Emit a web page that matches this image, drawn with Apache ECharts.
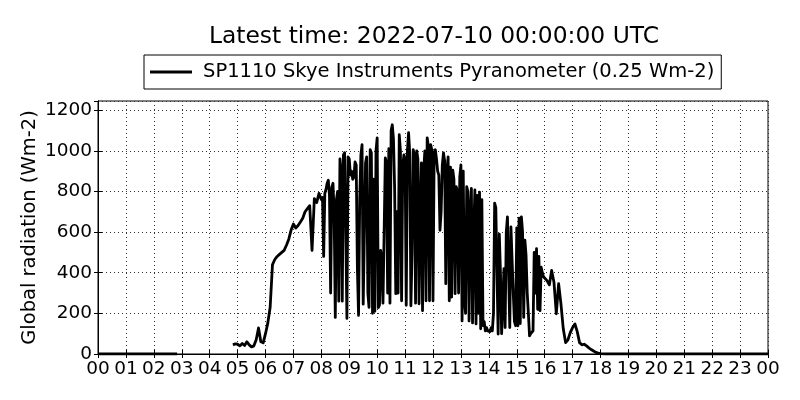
<!DOCTYPE html>
<html>
<head>
<meta charset="utf-8">
<script src="https://cdn.jsdelivr.net/npm/echarts@6/dist/echarts.min.js"></script>
<style>
  html, body { margin: 0; padding: 0; background: #fff; }
  #chart { width: 800px; height: 400px; }
</style>
</head>
<body>
<div id="chart"></div>
<script>
// 00:00 - 07:55, 5-minute samples, one row per hour (null = no data)
var earlyRadiation = [
  0, 0, 0, 0, 0, 0, 0, 0, 0, 0, 0, 0,                                  // 00
  0, 0, 0, 0, 0, 0, 0, 0, 0, 0, 0, 0,                                  // 01
  0, 0, 0, 0, 0, 0, 0, 0, 0, 0, 0, null,                               // 02
  null, null, null, null, null, null, null, null, null, null, null, null, // 03
  null, null, null, null, null, null, null, null, null, null, 45, 50,  // 04
  48, 40, 52, 42, 60, 45, 35, 40, 70, 128, 60, 55,                     // 05
  100, 153, 230, 440, 465, 480, 490, 500, 510, 535, 565, 610,          // 06
  640, 620, 632, 650, 668, 700, 715, 730, 510, 765, 745, 790           // 07
];
// 08:00 - 15:57.5, 2.5-minute samples, one row per hour
var middayRadiation = [
  760, 770, 480, 790, 810, 840, 855, 780, 300, 820, 840, 700,          // 08
  180, 760, 800, 260, 960, 900, 260, 980, 990, 600, 175, 970,
  960, 880, 900, 860, 870, 945, 930, 420, 190, 760, 980, 1030,         // 09
  245, 250, 940, 970, 300, 230, 1005, 990, 200, 860, 210, 1000,
  1064, 228, 240, 510, 470, 250, 600, 965, 940, 300, 1010, 250,        // 10
  1100, 1128, 1060, 820, 297, 700, 300, 1079, 1000, 262, 930, 980,
  960, 240, 1000, 1089, 990, 237, 500, 1005, 980, 250, 1000, 960,      // 11
  247, 700, 940, 213, 900, 1000, 262, 1064, 1020, 262, 1030, 1005,
  262, 990, 1005, 960, 900, 880, 609, 700, 930, 990, 950, 346,         // 12
  900, 970, 262, 920, 280, 905, 860, 297, 823, 800, 300, 870,
  930, 163, 900, 262, 200, 823, 800, 163, 700, 815, 153, 600,          // 13
  807, 148, 780, 200, 797, 124, 760, 140, 160, 114, 130, 114,
  120, 110, 130, 114, 200, 742, 720, 400, 98, 590, 400, 100,           // 14
  98, 420, 130, 600, 675, 680, 130, 625, 620, 300, 160, 139,
  620, 139, 668, 150, 675, 600, 180, 560, 485, 300, 200, 89,           // 15
  100, 105, 114, 500, 300, 518, 220, 480, 213, 427, 400, 380
];
// 16:00 - 24:00, 5-minute samples, one row per hour
var lateRadiation = [
  380, 361, 340, 411, 353, 198, 346, 247, 124, 56, 70, 105,            // 16
  130, 148, 110, 56, 45, 48, 40, 30, 22, 15, 8, 4,                     // 17
  2, 1, 0, 0, 0, 0, 0, 0, 0, 0, 0, 0,                                  // 18
  0, 0, 0, 0, 0, 0, 0, 0, 0, 0, 0, 0,                                  // 19
  0, 0, 0, 0, 0, 0, 0, 0, 0, 0, 0, 0,                                  // 20
  0, 0, 0, 0, 0, 0, 0, 0, 0, 0, 0, 0,                                  // 21
  0, 0, 0, 0, 0, 0, 0, 0, 0, 0, 0, 0,                                  // 22
  0, 0, 0, 0, 0, 0, 0, 0, 0, 0, 0, 0,                                  // 23
  0                                                                    // 24
];
var yTicks = [0, 200, 400, 600, 800, 1000, 1200];
var seriesName = 'SP1110 Skye Instruments Pyranometer (0.25 Wm-2)';
var titleText = 'Latest time: 2022-07-10 00:00:00 UTC';

var font = 'DejaVu Sans';
var points = [];
earlyRadiation.forEach(function(v, i) { points.push([i * 5 / 60, v]); });
middayRadiation.forEach(function(v, i) { points.push([8 + i * 2.5 / 60, v]); });
lateRadiation.forEach(function(v, i) { points.push([16 + i * 5 / 60, v]); });

function hh(v) {
    var h = Math.round(v) % 24;
    return (h < 10 ? '0' : '') + h;
}

var gridLine = { show: true, lineStyle: { color: '#333', width: 1, type: [1, 3] } };

var chart = echarts.init(document.getElementById('chart'), null, { renderer: 'canvas' });
chart.setOption({
    animation: false,
    backgroundColor: '#fff',
    title: {
        text: titleText,
        left: 429,
        textAlign: 'center',
        top: 20,
        textStyle: { fontFamily: font, fontSize: 23.4, fontWeight: 'normal', color: '#000' }
    },
    legend: {
        data: [seriesName],
        left: 144,
        top: 55,
        padding: [7, 7, 7, 6],
        itemGap: 0,
        itemWidth: 42,
        itemHeight: 3,
        icon: 'rect',
        borderColor: '#000',
        borderWidth: 1,
        borderRadius: 0,
        textStyle: { fontFamily: font, fontSize: 19.5, color: '#000', padding: [0, 0, 0, 6] }
    },
    grid: {
        left: 98, right: 32, top: 101, bottom: 46,
        show: true, borderColor: '#000', borderWidth: 1
    },
    xAxis: [{
        type: 'value', min: 0, max: 24, interval: 1,
        axisLine: { show: true, lineStyle: { color: '#000' } },
        axisTick: { inside: true, length: 4, lineStyle: { color: '#000' } },
        axisLabel: { formatter: hh, fontFamily: font, fontSize: 18.5, color: '#000', margin: 6 },
        splitLine: gridLine
    }, {
        type: 'value', min: 0, max: 24, interval: 1, position: 'top',
        axisLine: { show: true, lineStyle: { color: '#000' } },
        axisTick: { inside: true, length: 4, lineStyle: { color: '#000' } },
        axisLabel: { show: false },
        splitLine: { show: false }
    }],
    yAxis: [{
        type: 'value', min: 0, max: 1245, interval: 200,
        name: 'Global radiation (Wm-2)',
        nameLocation: 'middle',
        nameGap: 58,
        nameMoveOverlap: false,
        nameTextStyle: { fontFamily: font, fontSize: 19.5, color: '#000' },
        axisLine: { show: true, lineStyle: { color: '#000' } },
        axisTick: { inside: true, length: 4, lineStyle: { color: '#000' } },
        axisLabel: {
            showMaxLabel: false,
            fontFamily: font, fontSize: 18.5, color: '#000', margin: 6,
            formatter: function(v) { return yTicks.indexOf(v) >= 0 ? String(v) : ''; }
        },
        splitLine: gridLine
    }, {
        type: 'value', min: 0, max: 1245, interval: 200, position: 'right',
        axisLine: { show: true, lineStyle: { color: '#000' } },
        axisTick: { inside: true, length: 4, lineStyle: { color: '#000' } },
        axisLabel: { show: false },
        splitLine: { show: false }
    }],
    series: [{
        name: seriesName,
        type: 'line',
        xAxisIndex: 0,
        yAxisIndex: 0,
        data: points,
        showSymbol: false,
        symbol: 'none',
        connectNulls: false,
        sampling: null,
        color: '#000',
        lineStyle: { color: '#000', width: 2.8, join: 'round' }
    }]
});
</script>
</body>
</html>
